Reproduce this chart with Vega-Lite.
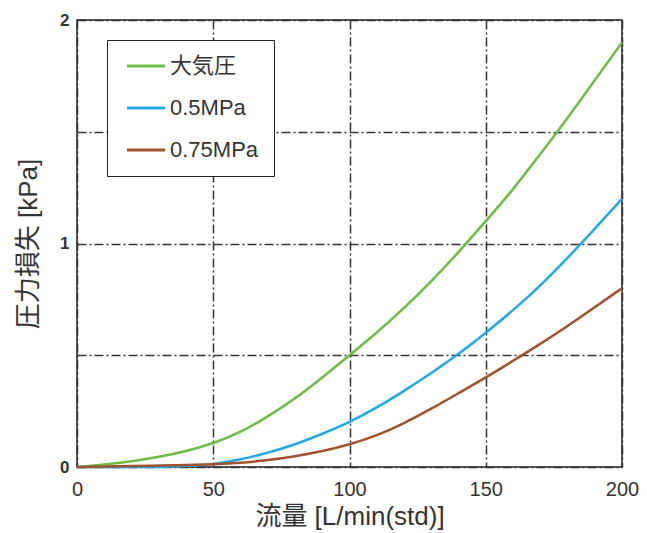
{
  "$schema": "https://vega.github.io/schema/vega-lite/v6.json",
  "width": 545,
  "height": 447,
  "autosize": {"type": "none"},
  "padding": {"left": 77, "top": 20, "right": 25, "bottom": 66},
  "background": "white",
  "config": {
    "font": "Liberation Sans, Noto Sans CJK JP",
    "view": {"stroke": "#222", "strokeWidth": 1.5}
  },
  "data": {
    "values": [
      {"flow": 0, "loss": 0, "series": "大気圧"},
      {"flow": 10, "loss": 0.01, "series": "大気圧"},
      {"flow": 20, "loss": 0.025, "series": "大気圧"},
      {"flow": 30, "loss": 0.045, "series": "大気圧"},
      {"flow": 40, "loss": 0.07, "series": "大気圧"},
      {"flow": 50, "loss": 0.105, "series": "大気圧"},
      {"flow": 60, "loss": 0.155, "series": "大気圧"},
      {"flow": 70, "loss": 0.225, "series": "大気圧"},
      {"flow": 80, "loss": 0.305, "series": "大気圧"},
      {"flow": 90, "loss": 0.4, "series": "大気圧"},
      {"flow": 100, "loss": 0.5, "series": "大気圧"},
      {"flow": 110, "loss": 0.6, "series": "大気圧"},
      {"flow": 120, "loss": 0.71, "series": "大気圧"},
      {"flow": 130, "loss": 0.83, "series": "大気圧"},
      {"flow": 140, "loss": 0.96, "series": "大気圧"},
      {"flow": 150, "loss": 1.1, "series": "大気圧"},
      {"flow": 160, "loss": 1.24, "series": "大気圧"},
      {"flow": 170, "loss": 1.4, "series": "大気圧"},
      {"flow": 180, "loss": 1.56, "series": "大気圧"},
      {"flow": 190, "loss": 1.73, "series": "大気圧"},
      {"flow": 200, "loss": 1.9, "series": "大気圧"},
      {"flow": 0, "loss": 0, "series": "0.5MPa"},
      {"flow": 10, "loss": 0, "series": "0.5MPa"},
      {"flow": 20, "loss": 0, "series": "0.5MPa"},
      {"flow": 30, "loss": 0, "series": "0.5MPa"},
      {"flow": 40, "loss": 0.003, "series": "0.5MPa"},
      {"flow": 50, "loss": 0.012, "series": "0.5MPa"},
      {"flow": 60, "loss": 0.033, "series": "0.5MPa"},
      {"flow": 70, "loss": 0.063, "series": "0.5MPa"},
      {"flow": 80, "loss": 0.1, "series": "0.5MPa"},
      {"flow": 90, "loss": 0.148, "series": "0.5MPa"},
      {"flow": 100, "loss": 0.2, "series": "0.5MPa"},
      {"flow": 110, "loss": 0.265, "series": "0.5MPa"},
      {"flow": 120, "loss": 0.34, "series": "0.5MPa"},
      {"flow": 130, "loss": 0.42, "series": "0.5MPa"},
      {"flow": 140, "loss": 0.505, "series": "0.5MPa"},
      {"flow": 150, "loss": 0.6, "series": "0.5MPa"},
      {"flow": 160, "loss": 0.7, "series": "0.5MPa"},
      {"flow": 170, "loss": 0.81, "series": "0.5MPa"},
      {"flow": 180, "loss": 0.935, "series": "0.5MPa"},
      {"flow": 190, "loss": 1.065, "series": "0.5MPa"},
      {"flow": 200, "loss": 1.2, "series": "0.5MPa"},
      {"flow": 0, "loss": 0, "series": "0.75MPa"},
      {"flow": 10, "loss": 0.002, "series": "0.75MPa"},
      {"flow": 20, "loss": 0.004, "series": "0.75MPa"},
      {"flow": 30, "loss": 0.006, "series": "0.75MPa"},
      {"flow": 40, "loss": 0.009, "series": "0.75MPa"},
      {"flow": 50, "loss": 0.012, "series": "0.75MPa"},
      {"flow": 60, "loss": 0.018, "series": "0.75MPa"},
      {"flow": 70, "loss": 0.03, "series": "0.75MPa"},
      {"flow": 80, "loss": 0.047, "series": "0.75MPa"},
      {"flow": 90, "loss": 0.07, "series": "0.75MPa"},
      {"flow": 100, "loss": 0.1, "series": "0.75MPa"},
      {"flow": 110, "loss": 0.14, "series": "0.75MPa"},
      {"flow": 120, "loss": 0.195, "series": "0.75MPa"},
      {"flow": 130, "loss": 0.26, "series": "0.75MPa"},
      {"flow": 140, "loss": 0.33, "series": "0.75MPa"},
      {"flow": 150, "loss": 0.4, "series": "0.75MPa"},
      {"flow": 160, "loss": 0.475, "series": "0.75MPa"},
      {"flow": 170, "loss": 0.55, "series": "0.75MPa"},
      {"flow": 180, "loss": 0.63, "series": "0.75MPa"},
      {"flow": 190, "loss": 0.715, "series": "0.75MPa"},
      {"flow": 200, "loss": 0.8, "series": "0.75MPa"}
    ]
  },
  "mark": {"type": "line", "strokeWidth": 2.5, "interpolate": "basis"},
  "encoding": {
    "x": {
      "field": "flow",
      "type": "quantitative",
      "scale": {"domain": [0, 200], "nice": false},
      "axis": {
        "title": "流量 [L/min(std)]",
        "values": [0, 50, 100, 150, 200],
        "grid": true,
        "gridColor": "#333",
        "gridWidth": 1.5,
        "gridDash": [9, 3, 2, 3],
        "gridOpacity": 1,
        "ticks": false,
        "domain": false,
        "labelFontSize": 20,
        "labelColor": "#333",
        "labelPadding": 12,
        "labelFlush": false,
        "titleFontSize": 26,
        "titleFontWeight": "normal",
        "titleColor": "#333",
        "titlePadding": 4
      }
    },
    "y": {
      "field": "loss",
      "type": "quantitative",
      "scale": {"domain": [0, 2], "nice": false},
      "axis": {
        "title": "圧力損失 [kPa]",
        "values": [0, 0.5, 1, 1.5, 2],
        "labelExpr": "datum.value % 1 === 0 ? format(datum.value, 'd') : ''",
        "grid": true,
        "gridColor": "#333",
        "gridWidth": 1.5,
        "gridDash": [9, 3, 2, 3],
        "gridOpacity": 1,
        "ticks": false,
        "domain": false,
        "labelFontSize": 17,
        "labelFontWeight": "bold",
        "labelColor": "#333",
        "labelPadding": 8,
        "labelFlush": false,
        "titleFontSize": 26,
        "titleFontWeight": "normal",
        "titleColor": "#333",
        "titlePadding": 18
      }
    },
    "color": {
      "field": "series",
      "type": "nominal",
      "scale": {
        "domain": ["大気圧", "0.5MPa", "0.75MPa"],
        "range": ["#6cbd45", "#1fa9e6", "#a0522d"]
      },
      "legend": {
        "title": null,
        "orient": "none",
        "legendX": 30,
        "legendY": 20,
        "direction": "vertical",
        "fillColor": "white",
        "strokeColor": "#222",
        "padding": 15,
        "symbolType": "M-0.63,0H3.37",
        "symbolSize": 361,
        "symbolStrokeWidth": 3,
        "labelFontSize": 22,
        "labelColor": "#333",
        "labelOffset": 26,
        "rowPadding": 20
      }
    }
  }
}
